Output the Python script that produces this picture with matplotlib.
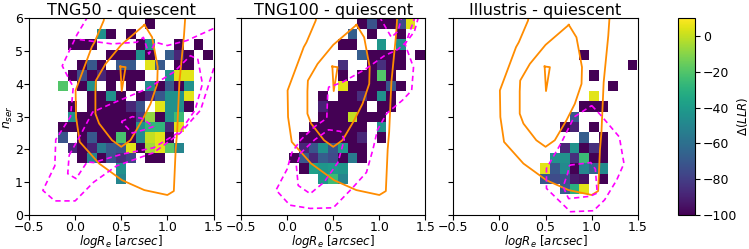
import numpy as np
import matplotlib
matplotlib.use("Agg")
import matplotlib.pyplot as plt
from matplotlib.colors import Normalize

# ---------------- data ----------------
titles = ["TNG50 - quiescent", "TNG100 - quiescent", "Illustris - quiescent"]
x_edges = np.linspace(-0.5, 1.6, 21)
y_edges = np.linspace(0.0, 6.3, 21)
vmin, vmax = -100, 10
cbar_ticks = [0, -20, -40, -60, -80, -100]

# cells: row index -> {column index: Delta(LLR)}
cells_tng50 = {
    18: {12: -100},
    17: {7: -45, 8: -100, 10: -100},
    16: {4: -100, 5: -100, 6: -100, 11: -100, 12: -45, 15: -100, 17: -100},
    15: {8: -100, 9: -100, 10: -100, 11: -45, 12: -100, 14: -68, 15: -88, 16: -100, 18: -100},
    14: {5: -100, 6: -70, 7: -100, 9: -70, 10: -70, 12: 5, 13: -70, 15: -100, 16: -100},
    13: {4: -100, 5: -75, 6: -100, 7: -88, 8: -100, 9: -100, 10: -100, 11: -100, 14: -45, 15: 5, 16: 5},
    12: {3: -20, 5: -100, 6: -45, 8: -100, 10: -100, 12: -48, 13: -100, 14: -70, 15: -100, 16: -45},
    11: {6: -100, 7: -100, 8: -45, 9: -100, 11: -100, 12: -88, 13: -70, 14: -45, 15: -45, 16: 5},
    10: {4: -100, 6: -100, 7: -100, 8: -100, 9: -100, 10: -88, 11: -72, 13: 5, 14: -45, 15: -45, 16: -100},
    9: {4: -45, 5: -100, 6: -100, 7: -100, 8: -100, 9: -100, 10: -100, 11: -80, 12: -8, 13: -100, 14: -45, 15: -25},
    8: {3: -100, 4: -100, 5: -100, 6: -100, 7: -100, 8: -100, 9: -100, 10: -100, 11: -45, 12: -28, 13: -28, 14: -88, 15: 5},
    7: {3: -72, 5: -100, 6: -70, 7: -100, 8: -100, 9: -22, 10: -100, 11: -48, 12: 0, 13: 5, 14: -100},
    6: {4: -88, 5: -100, 6: -90, 7: -55, 8: -70, 9: -72, 10: 5, 11: -100, 12: -5, 13: 5, 14: -18, 15: -50},
    5: {5: -100, 6: -50, 7: -100, 8: -72, 9: -85, 10: -78, 12: -100, 13: -100},
    4: {9: -45},
    3: {9: -50},
}
cells_tng100 = {
    18: {12: -100, 13: -72, 14: -100, 15: -100, 16: -75, 17: 5},
    17: {11: -68, 13: -100, 16: -100},
    16: {10: -100, 11: -100, 14: -42, 16: -45},
    15: {12: -68, 13: -100, 14: -100, 15: -100, 16: -100, 18: -100},
    14: {10: -85, 13: -100, 14: -85, 15: -100, 16: -100},
    13: {10: -100, 12: -100, 13: -100, 14: -20, 15: -100},
    12: {10: 5, 11: -100, 12: -100, 13: -100, 14: -100, 15: -70, 16: -100},
    11: {8: -100, 10: -100, 11: -100, 12: -85, 13: -100, 14: -45, 15: -100},
    10: {8: -90, 9: -100, 10: -100, 11: -100, 12: -100, 14: -100, 15: -100},
    9: {8: -100, 9: -100, 10: -100, 11: 0, 12: -100, 13: -100, 14: -100},
    8: {7: -100, 8: -100, 9: -100, 10: -100, 11: -100, 12: -100, 14: -45},
    7: {6: -100, 7: -100, 8: -100, 9: -100, 10: -100, 11: -100, 12: -88, 14: -100},
    6: {6: -88, 7: -72, 8: -45, 9: -72, 10: -40, 11: -100, 12: -100},
    5: {5: -100, 6: -70, 7: -88, 8: -68, 9: -75, 10: -100, 11: -55, 12: -100},
    4: {6: -100, 7: -38, 8: -42, 9: -40, 10: -42},
    3: {8: -42, 9: -25, 10: -50},
}
cells_illustris = {
    15: {13: -100},
    14: {18: -100},
    13: {14: -100},
    12: {16: -100},
    11: {14: 5},
    10: {13: -100, 14: -100, 15: -100},
    9: {12: -70},
    8: {11: -100, 12: -90, 14: -100},
    7: {13: -68, 15: -100},
    6: {11: -88, 12: -45, 13: -100, 14: -85, 15: -100},
    5: {10: -45, 11: -45, 12: -85, 13: -25, 14: -100, 15: -100},
    4: {9: 5, 10: -70, 11: -48, 12: -100, 13: -50, 14: -65, 15: -48},
    3: {9: -70, 10: -75, 11: -72, 12: -92, 13: -95, 15: -100},
    2: {11: -68, 12: -30, 13: 5},
}

# observed (orange, solid) contour paths, same in all panels
obs_outer = [(0.33, 6.3), (0.31, 5.93), (0.21, 5.27), (0.18, 5.12), (0.005, 3.8), (0.01, 2.99),
             (0.05, 2.23), (0.26, 1.57), (0.51, 1.06), (0.75, 0.76), (1.0, 0.61), (1.07, 0.73),
             (1.09, 2.0), (1.106, 2.53), (1.13, 4.05), (1.18, 5.47), (1.2, 6.3)]
obs_mid = [(0.752, 5.8), (0.835, 5.42), (0.895, 4.51), (0.89, 4.0), (0.817, 3.39), (0.727, 2.89),
           (0.6, 2.28), (0.5, 2.08), (0.40, 2.28), (0.26, 2.79), (0.22, 3.09), (0.22, 3.77),
           (0.225, 4.1), (0.33, 4.61), (0.50, 5.19), (0.752, 5.8)]
obs_inner = [(0.49, 4.53), (0.547, 4.51), (0.505, 3.78), (0.49, 4.53)]

# simulated (magenta, dashed) contour paths per panel
sim_tng50 = [
    [(0.19, 6.3), (0.02, 5.5), (-0.14, 4.55), (-0.02, 3.9), (-0.05, 3.0), (-0.21, 2.3),
     (-0.22, 1.5), (-0.35, 0.75), (-0.22, 0.43), (0.0, 0.43), (0.2, 1.0), (0.45, 1.5),
     (0.85, 1.9), (1.14, 2.5), (1.36, 3.2), (1.45, 4.0), (1.55, 4.9)],
    [(0.05, 5.35), (0.4, 5.22), (0.67, 5.27), (0.74, 5.42), (0.8, 4.91), (0.87, 5.27),
     (1.0, 5.17), (1.21, 5.32), (1.55, 5.75)],
    [(-0.065, 1.82), (0.05, 2.4), (0.19, 3.14), (0.39, 3.39), (0.78, 3.85), (1.07, 4.36),
     (1.25, 4.86), (1.33, 4.75), (1.38, 4.0), (1.3, 3.2), (1.14, 2.55), (0.85, 2.05),
     (0.5, 1.85), (0.2, 1.6), (0.13, 1.62), (0.01, 1.11), (-0.08, 1.26), (-0.065, 1.82)],
    [(0.5, 2.85), (0.62, 3.0), (0.72, 2.95), (0.85, 2.7), (0.75, 2.6), (0.62, 2.5), (0.5, 2.85)],
]
sim_tng100 = [
    [(0.95, 6.3), (1.13, 5.42), (1.2, 5.6), (1.27, 6.3)],
    [(1.45, 6.3), (1.38, 5.6), (1.3, 5.3), (1.2, 5.05), (1.05, 4.85), (0.85, 4.45), (0.6, 4.05),
     (0.45, 3.9), (0.44, 3.7), (0.43, 2.95), (0.3, 2.7), (0.15, 2.3), (0.05, 1.9), (0.0, 1.4),
     (-0.12, 0.76), (0.03, 0.3), (0.25, 0.2), (0.5, 0.22), (0.7, 0.8), (0.86, 1.3),
     (0.93, 2.0), (0.98, 2.6), (1.08, 3.1), (1.25, 3.5), (1.35, 3.8), (1.37, 4.5),
     (1.28, 5.2), (1.42, 6.3)],
    [(0.1, 1.5), (0.12, 0.9), (0.25, 0.65), (0.4, 1.0), (0.55, 1.6), (0.62, 2.3), (0.58, 2.55),
     (0.45, 2.6), (0.3, 2.3), (0.15, 1.9), (0.1, 1.5)],
]
sim_illustris = [
    [(1.0, 3.34), (1.1, 3.04), (1.3, 2.38), (1.35, 1.57), (1.27, 1.06), (1.14, 0.46),
     (1.02, 0.13), (0.77, 0.1), (0.51, 0.81), (0.51, 1.42), (0.67, 2.2), (0.81, 2.99), (1.0, 3.34)],
    [(0.76, 1.52), (0.99, 1.6), (1.04, 1.4), (1.06, 0.67), (0.98, 0.57), (0.75, 0.5),
     (0.69, 0.86), (0.74, 1.27), (0.76, 1.52)],
]

cells_all = [cells_tng50, cells_tng100, cells_illustris]
sims_all = [sim_tng50, sim_tng100, sim_illustris]

# ---------------- plotting ----------------
W, H = 749, 249
fig = plt.figure(figsize=(W / 100, H / 100), dpi=100)

lefts = [29, 241, 453.3]
ax_w, ax_top, ax_bot = 184.5, 18.3, 215
cmap = plt.get_cmap("viridis")
norm = Normalize(vmin=vmin, vmax=vmax)
mesh = None
for k in range(3):
    ax = fig.add_axes([lefts[k] / W, (H - ax_bot) / H, ax_w / W, (ax_bot - ax_top) / H])
    grid = np.full((20, 20), np.nan)
    for r, row in cells_all[k].items():
        for c, v in row.items():
            grid[r, c] = v
    mesh = ax.pcolormesh(x_edges, y_edges, np.ma.masked_invalid(grid), cmap=cmap, norm=norm)
    for path in [obs_outer, obs_mid, obs_inner]:
        p = np.array(path)
        ax.plot(p[:, 0], p[:, 1], color="darkorange", lw=1.3)
    for path in sims_all[k]:
        p = np.array(path)
        ax.plot(p[:, 0], p[:, 1], color="magenta", lw=1.2, ls=(0, (3.2, 2.2)))
    ax.set_xlim(-0.5, 1.5)
    ax.set_ylim(0, 6)
    ax.set_xticks([-0.5, 0.0, 0.5, 1.0, 1.5])
    ax.set_yticks(range(7))
    ax.tick_params(labelsize=9, length=3.5, pad=1)
    ax.set_title(titles[k], fontsize=11.5, pad=2)
    ax.set_xlabel(r"$logR_e\ [arcsec]$", fontsize=8.5, labelpad=-1)
    if k == 0:
        ax.set_ylabel(r"$n_{ser}$", fontsize=9, labelpad=0)
    else:
        ax.set_yticklabels([])

cax = fig.add_axes([678.3 / W, (H - 215) / H, 16.7 / W, (215 - 18.3) / H])
cb = fig.colorbar(mesh, cax=cax, ticks=cbar_ticks)
cb.ax.tick_params(labelsize=9, length=3.5, pad=2)
cb.set_label(r"$\Delta(LLR)$", fontsize=8.5)
cb.ax.yaxis.set_label_coords(3.4, 0.5)

fig.savefig("out.png", dpi=100)
